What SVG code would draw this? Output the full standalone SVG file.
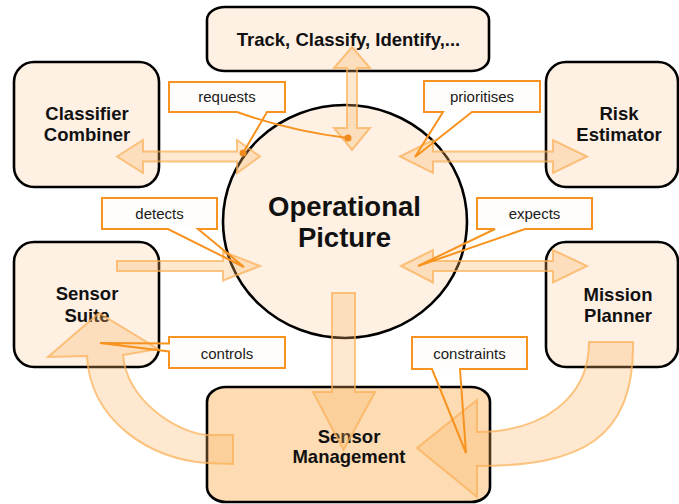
<svg xmlns="http://www.w3.org/2000/svg" width="679" height="504" viewBox="0 0 679 504">
  <style>
    .box { fill: #fef0e3; stroke: #000; stroke-width: 2.6; }
    .box-dark { fill: #fddbb3; stroke: #000; stroke-width: 2.6; }
    .label { font-family: "Liberation Sans", Arial, sans-serif; font-weight: bold; font-size: 18.5px; fill: #111; text-anchor: middle; }
    .big { font-size: 27.5px; }
    .flow { fill: #fbb565; fill-opacity: 0.3; stroke: #fbae52; stroke-opacity: 0.7; stroke-width: 2; stroke-linejoin: miter; }
    .note-bg { fill: #fffdfb; stroke: none; }
    .note { fill: none; stroke: #f7931e; stroke-width: 2; stroke-linejoin: miter; }
    .note-text { font-family: "Liberation Sans", Arial, sans-serif; font-size: 15px; fill: #1a1a1a; text-anchor: middle; }
    .dot { fill: #f08a1c; }
  </style>

  <!-- nodes -->
  <g id="track-classify">
    <rect class="box" x="207" y="7" width="282" height="64" rx="18" ry="13"/>
    <text class="label" x="348.5" y="46">Track, Classify, Identify,...</text>
  </g>
  <g id="classifier-combiner">
    <rect class="box" x="14" y="62" width="145" height="125" rx="20" ry="20"/>
    <text class="label" x="87" y="120">Classifier</text>
    <text class="label" x="87" y="141">Combiner</text>
  </g>
  <g id="risk-estimator">
    <rect class="box" x="546" y="62" width="132" height="125" rx="20" ry="20"/>
    <text class="label" x="619" y="120">Risk</text>
    <text class="label" x="619" y="141">Estimator</text>
  </g>
  <g id="sensor-suite">
    <rect class="box" x="14" y="242" width="145" height="125" rx="20" ry="20"/>
    <text class="label" x="87" y="300">Sensor</text>
    <text class="label" x="87" y="322">Suite</text>
  </g>
  <g id="mission-planner">
    <rect class="box" x="546" y="242" width="132" height="125" rx="20" ry="20"/>
    <text class="label" x="618" y="301">Mission</text>
    <text class="label" x="618" y="322">Planner</text>
  </g>
  <g id="sensor-management">
    <rect class="box-dark" x="207" y="387" width="283" height="115" rx="19" ry="15"/>
    <text class="label" x="349" y="443">Sensor</text>
    <text class="label" x="349" y="463">Management</text>
  </g>
  <g id="operational-picture">
    <ellipse class="box" cx="345" cy="221.5" rx="122" ry="116.5"/>
    <text class="label big" x="344.5" y="216">Operational</text>
    <text class="label big" x="344.5" y="247">Picture</text>
  </g>

  <!-- connectors -->
  <g id="connectors">
    <path class="flow" d="M117,156.5 L143,140 L143,151.5 L237,151.5 L237,140 L260,156.5 L237,173 L237,161.5 L143,161.5 L143,173 Z"/>
    <path class="flow" d="M400,156.5 L433,140 L433,151.5 L553,151.5 L553,140 L587,156.5 L553,173 L553,161.5 L433,161.5 L433,173 Z"/>
    <path class="flow" d="M117,261 L223,261 L223,251.5 L260,266 L223,280.5 L223,271 L117,271 Z"/>
    <path class="flow" d="M401,266 L433,250 L433,261 L553,261 L553,250 L587,266 L553,282.5 L553,271 L433,271 L433,282.5 Z"/>
    <path class="flow" d="M352,47 L370,68 L357,68 L357,128 L370,128 L352,150 L334,128 L347,128 L347,68 L334,68 Z"/>
    <path class="flow" d="M332,293 L355,293 L355,392 L375,392 L343.5,450 L313,392 L332,392 Z"/>
    <path class="flow" d="M233,464 L207,463 C150,460 90,420 87,356 L48,357 L99,313 L158,349 L123,355 C127,400 175,432 207,435 L233,435 Z"/>
    <path class="flow" d="M589,342 L633,342 C635,440 580,466 477,466 L477,497 L417,448 L477,400 L477,432 C540,432 589,400 589,342 Z"/>
  </g>

  <!-- callouts -->
  <g id="note-requests">
    <rect class="note-bg" x="169" y="82" width="116" height="30"/>
    <path class="note" d="M237,112 L169,112 L169,82 L285,82 L285,112 L267,112 L243,153"/>
    <path class="note" d="M237,112 Q290,131 348,138"/>
    <circle class="dot" cx="243" cy="153" r="3.5"/>
    <circle class="dot" cx="348" cy="138" r="3.5"/>
    <text class="note-text" x="227" y="102">requests</text>
  </g>
  <g id="note-prioritises">
    <rect class="note-bg" x="424" y="81" width="116" height="31"/>
    <path class="note" d="M443,112 L424,112 L424,81 L540,81 L540,112 L472,112 L415,157 Z"/>
    <text class="note-text" x="482" y="102">prioritises</text>
  </g>
  <g id="note-detects">
    <rect class="note-bg" x="102" y="198" width="115" height="31"/>
    <path class="note" d="M168,229 L102,229 L102,198 L217,198 L217,229 L198,229 L244,267 Z"/>
    <text class="note-text" x="159.5" y="218.5">detects</text>
  </g>
  <g id="note-expects">
    <rect class="note-bg" x="477" y="198" width="115" height="31"/>
    <path class="note" d="M495,229 L477,229 L477,198 L592,198 L592,229 L525,229 L418,266 Z"/>
    <text class="note-text" x="534.5" y="218.5">expects</text>
  </g>
  <g id="note-controls">
    <rect class="note-bg" x="169" y="337" width="116" height="31"/>
    <path class="note" d="M169,343.5 L169,337 L285,337 L285,368 L169,368 L169,351.5 L100,343 Z"/>
    <text class="note-text" x="227" y="358.5">controls</text>
  </g>
  <g id="note-constraints">
    <rect class="note-bg" x="412" y="337" width="115" height="32"/>
    <path class="note" d="M432,369 L412,369 L412,337 L527,337 L527,369 L460,369 L466,453 Z"/>
    <text class="note-text" x="469.5" y="358.5">constraints</text>
  </g>
</svg>
